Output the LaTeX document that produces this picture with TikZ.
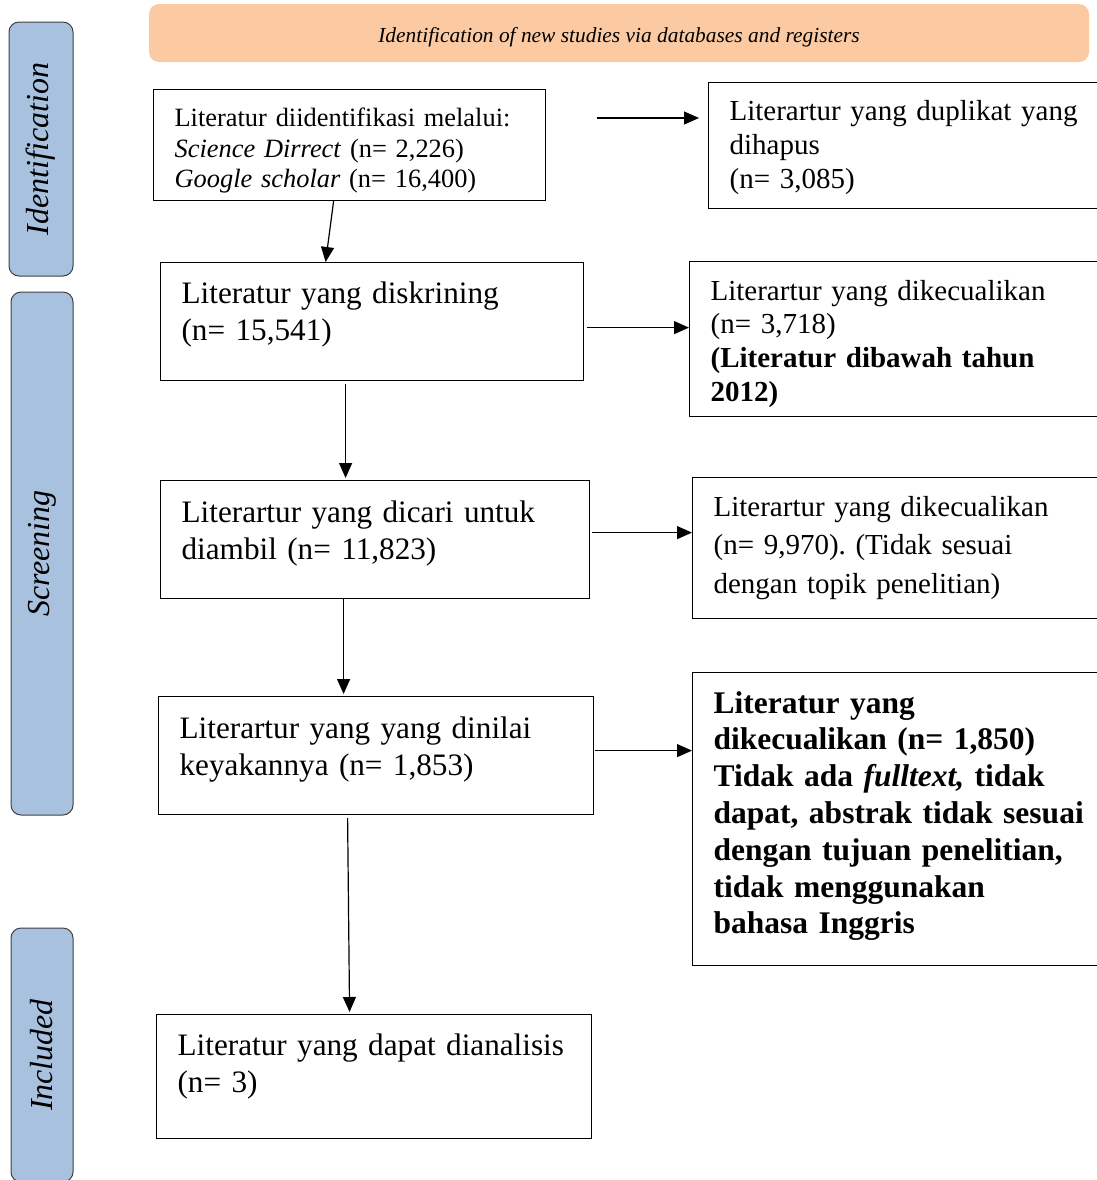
\documentclass[tikz,border=0pt]{standalone}
\usepackage{fontspec}
\setmainfont{Liberation Serif}
\usetikzlibrary{arrows.meta}
\definecolor{peach}{RGB}{251,202,162}
\definecolor{stageblue}{RGB}{167,193,223}
\frenchspacing

\begin{document}
\begin{tikzpicture}[x=0.5pt,y=-0.5pt,
  flowbox/.style={draw, line width=0.6pt, anchor=north west, align=left, inner ysep=0pt, inner xsep=10.5pt},
  stage/.style={draw=black!75, fill=stageblue, rounded corners=5pt, rotate=90, line width=0.5pt, inner sep=0pt, font=\fontsize{16}{18}\selectfont\itshape},
  arr/.style={-{Triangle[length=7.5pt,width=6.5pt]}, line width=0.6pt}]

\useasboundingbox (0,0) rectangle (1097,1180);

\node[fill=peach, rounded corners=5pt, minimum width=470pt, minimum height=29pt, text height=9pt, text depth=0pt, font=\fontsize{10.7}{12}\selectfont\itshape] (head) at (619,33) {Identification of new studies via databases and registers};

\node[stage, minimum width=127pt, minimum height=32pt] (ident) at (41,149) {Identification};
\node[stage, minimum width=261.5pt, minimum height=31pt] (screen) at (42,553.5) {Screening};
\node[stage, minimum width=127pt, minimum height=31pt] (incl) at (42,1055) {Included};

\node[flowbox, text width=175pt, text height=18.5pt, text depth=37pt, font=\fontsize{13.2}{15.25}\selectfont] (id) at (153,89) {Literatur diidentifikasi melalui:\\ \textit{Science Dirrect} (n= 2,226)\\ \textit{Google scholar} (n= 16,400)};
\node[flowbox, text width=178pt, text height=18.75pt, text depth=44.25pt, font=\fontsize{14.5}{17}\selectfont] (dup) at (708,82) {Literartur yang duplikat yang\\ dihapus\\ (n= 3,085)};

\node[flowbox, text width=190.5pt, text height=20.25pt, text depth=38.75pt, font=\fontsize{15.6}{18.5}\selectfont] (scr) at (160,262) {Literatur yang diskrining\\ (n= 15,541)};
\node[flowbox, text width=190pt, text height=19.3pt, text depth=58.2pt, font=\fontsize{14.5}{16.85}\selectfont] (exc1) at (689,261) {Literartur yang dikecualikan\\ (n= 3,718)\\ \textbf{(Literatur dibawah tahun}\\ \textbf{2012)}};

\node[flowbox, text width=193.5pt, text height=20.75pt, text depth=38.25pt, font=\fontsize{15.6}{18.5}\selectfont] (ret) at (160,480) {Literartur yang dicari untuk\\ diambil (n= 11,823)};
\node[flowbox, text width=190pt, text height=19.3pt, text depth=51.2pt, font=\fontsize{14.5}{19.25}\selectfont] (exc2) at (692,477) {Literartur yang dikecualikan\\ (n= 9,970). (Tidak sesuai\\ dengan topik penelitian)};

\node[flowbox, text width=196.5pt, text height=20.75pt, text depth=38.25pt, font=\fontsize{15.6}{18.5}\selectfont] (elig) at (158,696) {Literartur yang yang dinilai\\ keyakannya (n= 1,853)};
\node[flowbox, text width=192pt, text height=20.25pt, text depth=126.25pt, font=\fontsize{15.75}{18.4}\selectfont\bfseries] (exc3) at (692,672) {Literatur yang\\ dikecualikan (n= 1,850)\\ Tidak ada \textit{fulltext,} tidak\\ dapat, abstrak tidak sesuai\\ dengan tujuan penelitian,\\ tidak menggunakan\\ bahasa Inggris};

\node[flowbox, text width=196.5pt, text height=20.25pt, text depth=41.75pt, font=\fontsize{15.6}{18.5}\selectfont] (inc) at (156,1014) {Literatur yang dapat dianalisis\\ (n= 3)};

% arrows
\coordinate (dupstart) at (597,118);
\draw[arr, shorten >=4.5pt] (dupstart) -- (dupstart -| dup.west);
\draw[arr] ([xshift=-8pt]id.south) -- ([xshift=-23.25pt]scr.north);

\coordinate (s1) at ([xshift=1.5pt,yshift=-3pt]scr.east);
\draw[arr] (s1) -- (s1 -| exc1.west);
\coordinate (s2) at ([xshift=-13.25pt,yshift=-1.5pt]scr.south);
\draw[arr, shorten >=1pt] (s2) -- (s2 |- ret.north);

\coordinate (s3) at ([xshift=1pt,yshift=3.5pt]ret.east);
\draw[arr] (s3) -- (s3 -| exc2.west);
\coordinate (s4) at ([xshift=-15.75pt]ret.south);
\draw[arr, shorten >=1pt] (s4) -- (s4 |- elig.north);

\coordinate (s5) at ([xshift=0.5pt,yshift=2.5pt]elig.east);
\draw[arr] (s5) -- (s5 -| exc3.west);
\draw[arr, shorten >=1pt] ([xshift=-14.25pt,yshift=-1.5pt]elig.south) -- ([xshift=-12.25pt]inc.north);

\end{tikzpicture}
\end{document}
